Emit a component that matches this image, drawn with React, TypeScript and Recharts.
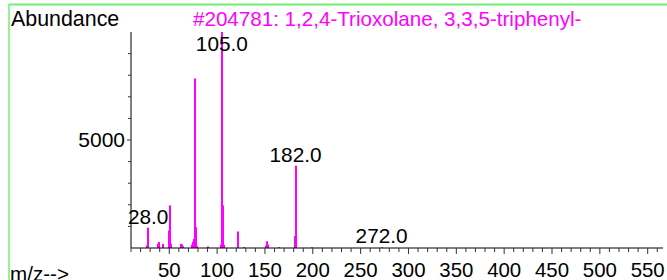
import { BarChart, Bar, XAxis, YAxis, LabelList } from "recharts";

const mz = [27, 28, 38, 39, 44, 50, 51, 52, 62, 63, 64, 74, 75, 76, 77, 78, 79, 91, 104, 105, 106, 107, 122, 128, 151, 152, 153, 165, 181, 182, 183, 199, 272];
const abundance = [120, 940, 200, 280, 190, 810, 1970, 200, 190, 170, 80, 150, 280, 420, 7850, 960, 80, 70, 150, 10000, 1970, 150, 765, 40, 110, 315, 160, 40, 550, 3810, 550, 30, 30];
const labeledPeaks = [28, 105, 182, 272];

const xLabels = [50, 100, 150, 200, 250, 300, 350, 400, 450, 500, 550];
const xTicks = Array.from({ length: 56 }, (_, i) => 10 + i * 10);
const yTicks = [1000, 2000, 3000, 4000, 5000, 6000, 7000, 8000, 9000];
const yLabels = [5000];

const title = "#204781: 1,2,4-Trioxolane, 3,3,5-triphenyl-";
const font = "'Liberation Sans', Arial, sans-serif";

const data = mz.map((m, i) => ({ mz: m, abundance: abundance[i] }));

const XTick = ({ x, y, payload }: any) => {
  const v = payload.value;
  const major = xLabels.includes(v);
  return (
    <g>
      <line x1={x} x2={x} y1={y} y2={y + (major ? 6 : 4)} stroke="#333" />
      {major && (
        <text x={x} y={y + 29} textAnchor="middle" fontSize={20.4} fontFamily={font} fill="#000">
          {v}
        </text>
      )}
    </g>
  );
};

const YTick = ({ x, y, payload }: any) => {
  const v = payload.value;
  const major = yLabels.includes(v);
  return (
    <g>
      <line x1={x - (major ? 4 : 3)} x2={x} y1={y} y2={y} stroke="#333" />
      {major && (
        <text x={x - 6} y={y + 7} textAnchor="end" fontSize={21} fontFamily={font} fill="#000">
          {v}
        </text>
      )}
    </g>
  );
};

// snap each peak line to whole pixels so it stays crisp magenta
const PeakLine = ({ x, y, width, height }: any) => {
  if (!height) return null;
  const cx = Math.round(x + width / 2);
  return <rect x={cx - 1} y={y} width={2} height={height} fill="#ff00ff" />;
};

const PeakLabel = ({ x, y, width, value }: any) => {
  if (!labeledPeaks.includes(value)) return null;
  return (
    <text x={x + width / 2} y={Math.max(y - 4, 51)} textAnchor="middle" fontSize={20.8} fontFamily={font} fill="#000">
      {value.toFixed(1)}
    </text>
  );
};

export default function App() {
  return (
    <div style={{ position: "absolute", left: 0, top: 0, width: 667, height: 280, overflow: "hidden", background: "#fff" }}>
      <BarChart width={667} height={280} data={data} margin={{ top: 32, right: 4, bottom: 0, left: 0 }}>
        <XAxis
          dataKey="mz"
          type="number"
          domain={[10, 566]}
          allowDataOverflow
          ticks={xTicks}
          interval={0}
          tick={<XTick />}
          tickLine={false}
          tickSize={0}
          tickMargin={0}
          height={32}
          axisLine={{ stroke: "#000" }}
        />
        <YAxis
          type="number"
          domain={[0, 10000]}
          allowDataOverflow
          ticks={yTicks}
          interval={0}
          tick={<YTick />}
          tickLine={false}
          tickSize={0}
          tickMargin={0}
          width={131}
          axisLine={{ stroke: "#000" }}
        />
        <Bar dataKey="abundance" fill="#ff00ff" barSize={2} shape={<PeakLine />} isAnimationActive={false}>
          <LabelList dataKey="mz" content={<PeakLabel />} />
        </Bar>
      </BarChart>
      <svg width={667} height={280} style={{ position: "absolute", left: 0, top: 0, pointerEvents: "none" }}>
        <line x1={9} x2={667} y1={4.5} y2={4.5} stroke="#70f070" strokeWidth={2} />
        <line x1={9} x2={9} y1={4} y2={280} stroke="#70f070" strokeWidth={1.5} />
        <text x={11} y={26} fontSize={21.4} fontFamily={font} fill="#000">Abundance</text>
        <text x={193} y={26} fontSize={20.6} fontFamily={font} fill="#ff00ff">{title}</text>
        <text x={10} y={281} fontSize={20.6} fontFamily={font} fill="#000">m/z--&gt;</text>
      </svg>
    </div>
  );
}
